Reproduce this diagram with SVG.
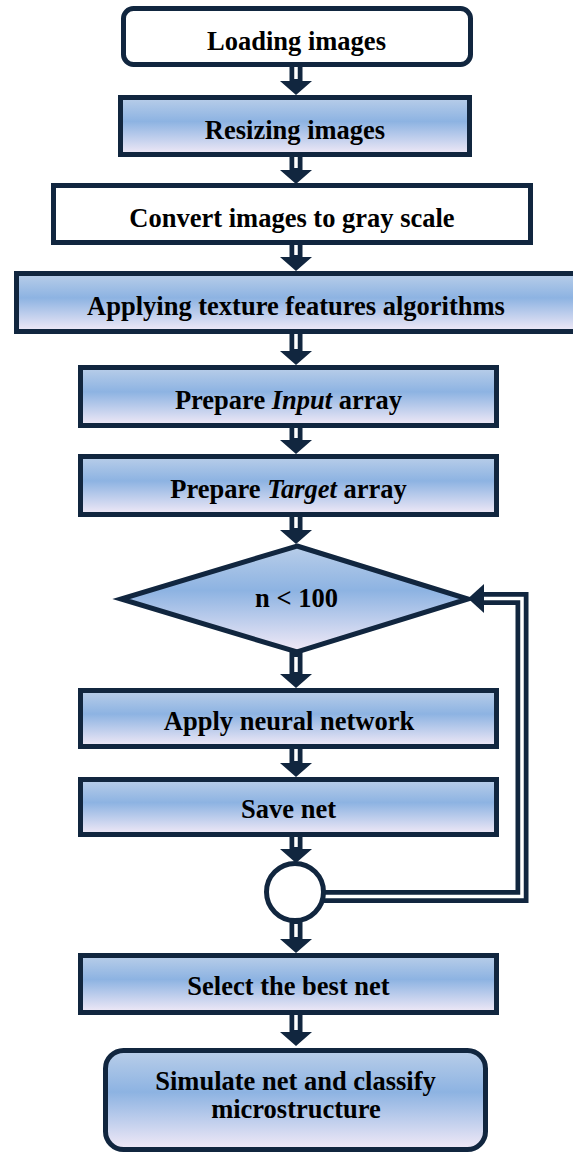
<svg xmlns="http://www.w3.org/2000/svg" width="573" height="1153" viewBox="0 0 573 1153">
<defs>
<linearGradient id="g" x1="0" y1="0" x2="0" y2="1">
<stop offset="0" stop-color="#b9cee9"/>
<stop offset="0.42" stop-color="#8db3e2"/>
<stop offset="1" stop-color="#f2eaf7"/>
</linearGradient>
</defs>
<style>
.box{stroke:#11263f;stroke-width:5;stroke-linejoin:miter}
.w{fill:#ffffff}
.gr{fill:url(#g)}
.t{font-family:"Liberation Serif","Times New Roman",serif;font-weight:bold;font-size:26.5px;fill:#000;text-anchor:middle}
.ah{fill:#11263f}
.sh{stroke:#ffffff;stroke-width:3.5;fill:none}
</style>
<rect width="573" height="1153" fill="#ffffff"/>
<g id="connectors">
<path class="ah" d="M289.5,64V81H280L296,95L312,81H302.5V64Z"/><line class="sh" x1="296" y1="66" x2="296" y2="79"/>
<path class="ah" d="M289.5,155V170H280L296,184L312,170H302.5V155Z"/><line class="sh" x1="296" y1="157" x2="296" y2="168"/>
<path class="ah" d="M289.5,243V257H280L296,271L312,257H302.5V243Z"/><line class="sh" x1="296" y1="245" x2="296" y2="255"/>
<path class="ah" d="M289.5,332V351H280L296,365L312,351H302.5V332Z"/><line class="sh" x1="296" y1="334" x2="296" y2="349"/>
<path class="ah" d="M289.5,426V440H280L296,454L312,440H302.5V426Z"/><line class="sh" x1="296" y1="428" x2="296" y2="438"/>
<path class="ah" d="M289.5,515V530H280L296,544L312,530H302.5V515Z"/><line class="sh" x1="296" y1="517" x2="296" y2="528"/>
<path class="ah" d="M289.5,652V674H280L296,688L312,674H302.5V652Z"/><line class="sh" x1="296" y1="657" x2="296" y2="672"/>
<path class="ah" d="M289.5,746V763H280L296,777L312,763H302.5V746Z"/><line class="sh" x1="296" y1="748" x2="296" y2="761"/>
<path class="ah" d="M289.5,834V849H280L296,863L312,849H302.5V834Z"/><line class="sh" x1="296" y1="836" x2="296" y2="847"/>
<path class="ah" d="M289.5,920V939H280L296,953L312,939H302.5V920Z"/><line class="sh" x1="296" y1="924" x2="296" y2="937"/>
<path class="ah" d="M289.5,1012V1032H280L296,1046L312,1032H302.5V1012Z"/><line class="sh" x1="296" y1="1014" x2="296" y2="1030"/>
<path d="M321,896.5H522V598.5H480" fill="none" stroke="#11263f" stroke-width="13" stroke-linejoin="miter"/>
<path d="M324,896.5H522V598.5H482" class="sh"/>
<path class="ah" d="M468,598.5L484,584V613Z"/>
</g>
<g id="n1"><rect class="box w" x="123.5" y="8.5" width="347" height="56" rx="10"/><text class="t" x="296.5" y="50">Loading images</text></g>
<g id="n2"><rect class="box gr" x="120.5" y="97.5" width="349" height="57"/><text class="t" x="295" y="139">Resizing images</text></g>
<g id="n3"><rect class="box w" x="53.5" y="185.5" width="477" height="57"/><text class="t" x="292" y="227">Convert images to gray scale</text></g>
<g id="n4"><rect class="box gr" x="16.5" y="273.5" width="570" height="58"/><text class="t" x="296" y="315">Applying texture features algorithms</text></g>
<g id="n5"><rect class="box gr" x="80.5" y="367.5" width="416" height="58"/><text class="t" x="288.5" y="409">Prepare <tspan font-style="italic">Input</tspan> array</text></g>
<g id="n6"><rect class="box gr" x="80.5" y="456.5" width="416" height="58"/><text class="t" x="288.5" y="498">Prepare <tspan font-style="italic">Target</tspan> array</text></g>
<g id="n7"><polygon class="box gr" points="297,546 468,599 297,652 121,599"/><text class="t" x="296.5" y="607">n &lt; 100</text></g>
<g id="n8"><rect class="box gr" x="80.5" y="690.5" width="416" height="56"/><text class="t" x="289" y="730">Apply neural network</text></g>
<g id="n9"><rect class="box gr" x="80.5" y="779.5" width="416" height="55"/><text class="t" x="288.5" y="818">Save net</text></g>
<g id="n10"><circle class="box w" cx="295" cy="892" r="28.5"/></g>
<g id="n11"><rect class="box gr" x="80.5" y="955.5" width="416" height="57"/><text class="t" x="288.5" y="995">Select the best net</text></g>
<g id="n12"><rect class="box gr" x="105.5" y="1050.5" width="380" height="99" rx="18"/><text class="t" x="295.5" y="1090">Simulate net and classify</text><text class="t" x="296" y="1118">microstructure</text></g>
</svg>
